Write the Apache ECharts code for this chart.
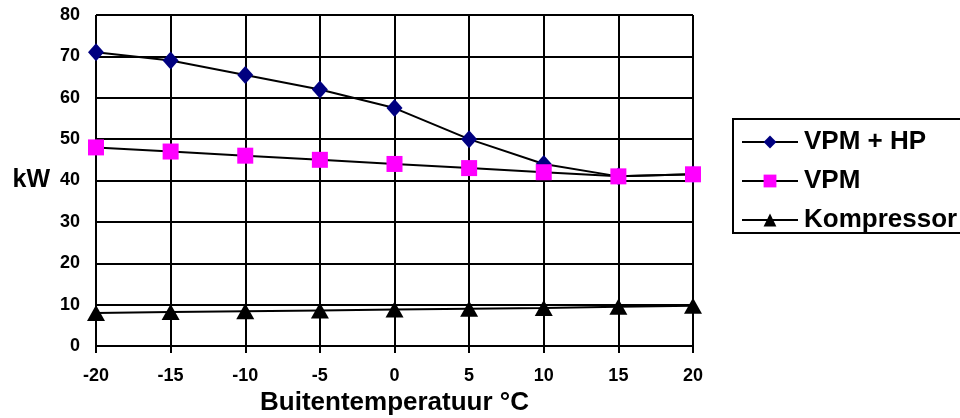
<!DOCTYPE html>
<html><head><meta charset="utf-8">
<script src="https://cdn.jsdelivr.net/npm/echarts@6/dist/echarts.min.js"></script>
<style>html,body{margin:0;padding:0;background:#fff}#c{width:960px;height:418px}</style>
</head><body><div id="c"></div>
<script>
const temps = [-20, -15, -10, -5, 0, 5, 10, 15, 20];
const vpmHp = [71, 69, 65.5, 62, 57.5, 50, 44, 41, 41.5];
const vpm = [48, 47, 46, 45, 44, 43, 42, 41, 41.5];
const kompressor = [8, 8.2, 8.4, 8.6, 8.8, 9, 9.2, 9.5, 9.7];
const seriesNames = ['VPM + HP', 'VPM', 'Kompressor'];

const pair = (vals) => temps.map((t, i) => [t, vals[i]]);
const font = 'Arial, "Liberation Sans", sans-serif';
const chart = echarts.init(document.getElementById('c'), null, {renderer: 'canvas'});
const lineStyle = {color: '#000', width: 2};
chart.setOption({
  animation: false,
  backgroundColor: '#fff',
  grid: {left: 96, right: 267, top: 15, bottom: 72, containLabel: false, outerBoundsMode: 'none'},
  xAxis: {
    type: 'value', min: -20, max: 20, interval: 5,
    name: 'Buitentemperatuur °C', nameLocation: 'middle', nameGap: 43,
    nameTextStyle: {fontFamily: font, fontWeight: 'bold', fontSize: 26, color: '#000'},
    axisLine: {show: true, lineStyle: {color: '#000', width: 2}},
    axisTick: {show: true, length: 7, lineStyle: {color: '#000', width: 2}},
    axisLabel: {fontFamily: font, fontWeight: 'bold', fontSize: 18, color: '#000', margin: 21},
    splitLine: {show: true, lineStyle: {color: '#000', width: 2}}
  },
  yAxis: {
    type: 'value', min: 0, max: 80, interval: 10,
    name: 'kW', nameLocation: 'middle', nameGap: 46, nameRotate: 0,
    nameTextStyle: {fontFamily: font, fontWeight: 'bold', fontSize: 25, color: '#000'},
    axisLine: {show: true, lineStyle: {color: '#000', width: 2}},
    axisTick: {show: true, length: 7, lineStyle: {color: '#000', width: 2}},
    axisLabel: {fontFamily: font, fontWeight: 'bold', fontSize: 18, color: '#000', margin: 16},
    splitLine: {show: true, lineStyle: {color: '#000', width: 2}}
  },
  legend: {
    orient: 'vertical', left: 733, top: 119,
    padding: [10, 40, 0, 8],
    borderColor: '#000', borderWidth: 2,
    itemWidth: 56, itemHeight: 16, itemGap: 13,
    textStyle: {fontFamily: font, fontWeight: 'bold', fontSize: 26, color: '#000', padding: [0, 0, 0, 1]},
    data: seriesNames
  },
  series: [
    {name: seriesNames[0], type: 'line', data: pair(vpmHp), symbol: 'diamond', symbolSize: [16, 18],
     itemStyle: {color: '#000080'}, lineStyle: lineStyle, z: 3},
    {name: seriesNames[1], type: 'line', data: pair(vpm), symbol: 'rect', symbolSize: 16,
     itemStyle: {color: '#ff00ff'}, lineStyle: lineStyle, z: 4},
    {name: seriesNames[2], type: 'line', data: pair(kompressor), symbol: 'triangle', symbolSize: [18, 16],
     itemStyle: {color: '#000'}, lineStyle: lineStyle, z: 5}
  ]
});
</script></body></html>
